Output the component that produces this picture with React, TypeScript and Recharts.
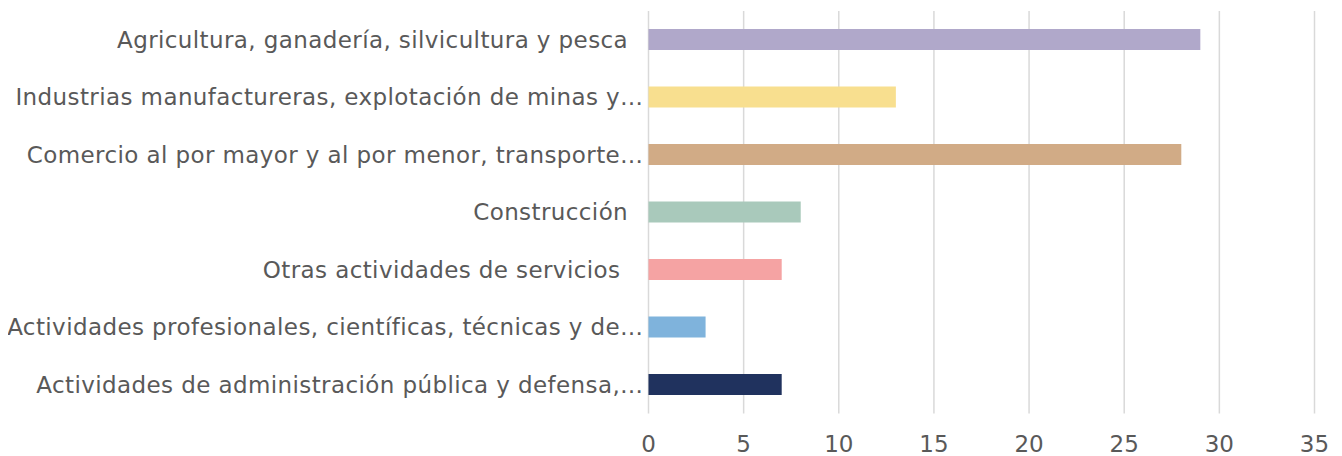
import { BarChart, Bar, XAxis, YAxis, CartesianGrid, Cell } from "recharts";

const categories = [
    "Agricultura, ganadería, silvicultura y pesca  ",
    "Industrias manufactureras, explotación de minas y…",
    "Comercio al por mayor y al por menor, transporte…",
    "Construcción  ",
    "Otras actividades de servicios   ",
    "Actividades profesionales, científicas, técnicas y de…",
    "Actividades de administración pública y defensa,…",
];

const values = [29, 13, 28, 8, 7, 3, 7];

const barColors = ["#b0a8ca", "#f8df8f", "#d1ab86", "#a9c9bb", "#f5a3a3", "#7fb3dc", "#20325e"];

const xTicks = [0, 5, 10, 15, 20, 25, 30, 35];

const data = categories.map((name, i) => ({ name, value: values[i] }));

const TEXT_COLOR = "#595959";
const FONT = "'DejaVu Sans', Verdana, sans-serif";

// keeps trailing spaces in labels so they line up like the original
function CategoryTick(props: any) {
    const { x, y, payload } = props;
    return (
        <text
            x={x}
            y={y}
            textAnchor="end"
            dominantBaseline="central"
            fill={TEXT_COLOR}
            fontSize={23}
            letterSpacing={0.4}
            fontFamily={FONT}
            style={{ whiteSpace: "pre" }}
        >
            {payload.value}
        </text>
    );
}

export default function App() {
    return (
        <BarChart
            width={1334}
            height={448}
            data={data}
            layout="vertical"
            margin={{ top: 3, right: 27.5, bottom: 0, left: 0 }}
        >
            <CartesianGrid horizontal={false} stroke="#d9d9d9" strokeWidth={1.5} />
            <XAxis
                type="number"
                domain={[0, 35]}
                ticks={xTicks}
                height={42.5}
                tickLine={false}
                axisLine={false}
                tickSize={0}
                tickMargin={22}
                tick={{ fontSize: 23, fill: TEXT_COLOR, fontFamily: FONT }}
            />
            <YAxis
                type="category"
                dataKey="name"
                width={640.5}
                tickLine={false}
                axisLine={false}
                tickSize={0}
                tickMargin={5}
                interval={0}
                tick={<CategoryTick />}
            />
            <Bar dataKey="value" barSize={21} isAnimationActive={false}>
                {data.map((d, i) => (
                    <Cell key={d.name} fill={barColors[i]} />
                ))}
            </Bar>
        </BarChart>
    );
}
